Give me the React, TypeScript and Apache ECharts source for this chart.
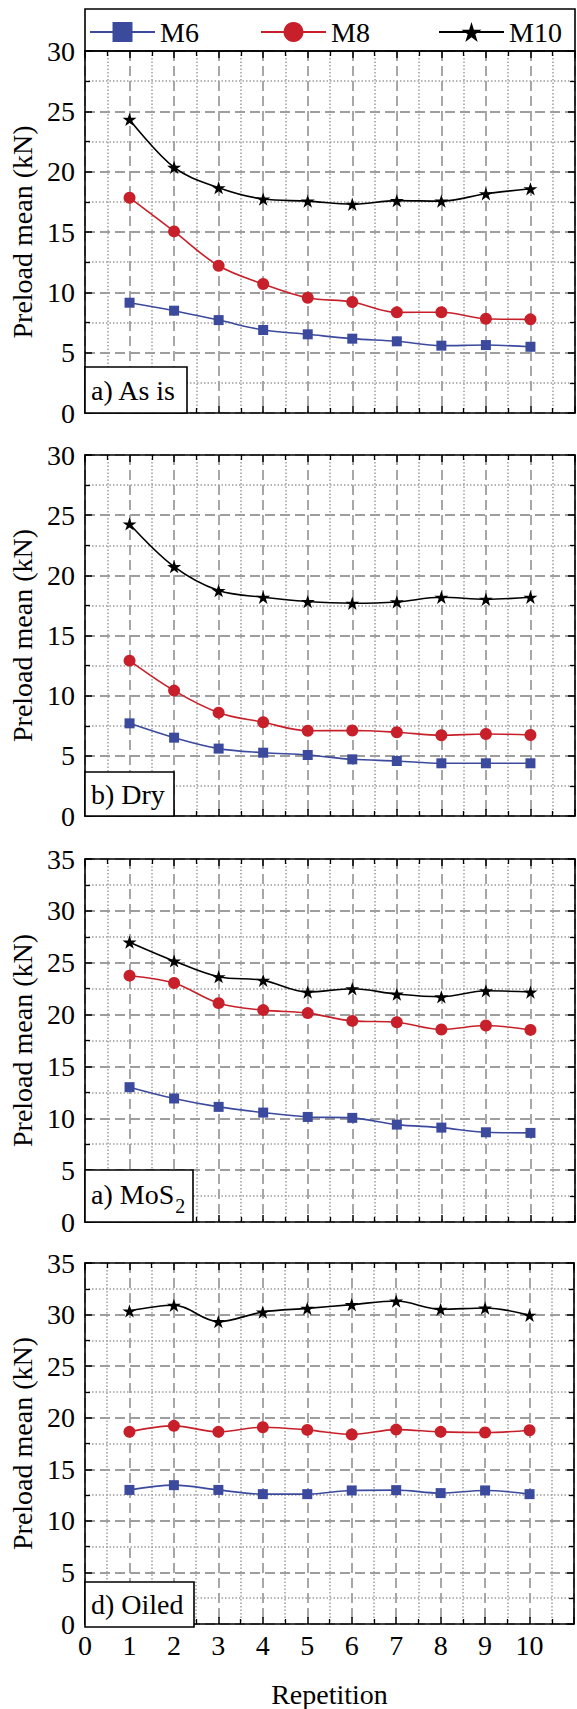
import React, { useEffect, useRef } from 'react';
import * as echarts from 'echarts';

// ---------- data ----------
const repetitions = [1, 2, 3, 4, 5, 6, 7, 8, 9, 10];
const seriesNames = ['M6', 'M8', 'M10'];
const panelLabels = ['a) As is', 'b) Dry', 'a) MoS', 'd) Oiled'];
const panelSubscripts = ['', '', '2', ''];
const yMaxes = [30, 30, 35, 35];
const xMax = 11;
const yAxisTitle = 'Preload mean (kN)';
const xAxisTitle = 'Repetition';

const asIsM6 = [9.14, 8.48, 7.7, 6.88, 6.52, 6.16, 5.94, 5.58, 5.63, 5.49];
const asIsM8 = [17.84, 15.05, 12.2, 10.69, 9.55, 9.2, 8.34, 8.35, 7.81, 7.76];
const asIsM10 = [24.33, 20.35, 18.67, 17.73, 17.56, 17.3, 17.6, 17.56, 18.17, 18.58];

const dryM6 = [7.7, 6.51, 5.6, 5.26, 5.07, 4.71, 4.57, 4.38, 4.38, 4.38];
const dryM8 = [12.91, 10.42, 8.59, 7.79, 7.09, 7.1, 6.96, 6.71, 6.82, 6.73];
const dryM10 = [24.27, 20.72, 18.73, 18.18, 17.82, 17.68, 17.79, 18.18, 18.01, 18.18];

const mos2M6 = [13.0, 11.91, 11.1, 10.55, 10.13, 10.04, 9.39, 9.1, 8.65, 8.59];
const mos2M8 = [23.75, 23.04, 21.1, 20.43, 20.14, 19.39, 19.26, 18.56, 18.94, 18.52];
const mos2M10 = [26.98, 25.17, 23.65, 23.3, 22.17, 22.49, 21.97, 21.71, 22.29, 22.17];

const oiledM6 = [13.0, 13.46, 13.0, 12.59, 12.59, 12.95, 12.98, 12.69, 12.95, 12.59];
const oiledM8 = [18.63, 19.21, 18.63, 19.08, 18.82, 18.37, 18.85, 18.63, 18.56, 18.79];
const oiledM10 = [30.35, 30.9, 29.32, 30.25, 30.6, 30.96, 31.31, 30.51, 30.64, 29.93];

const panelData = [
  [asIsM6, asIsM8, asIsM10],
  [dryM6, dryM8, dryM10],
  [mos2M6, mos2M8, mos2M10],
  [oiledM6, oiledM8, oiledM10],
];

// ---------- layout / style ----------
const FONT = 'Liberation Serif';
const GRID_LEFT = 85;
const GRID_WIDTH = 490;
const gridTops = [51, 455, 859, 1263];
const gridHeights = [362, 361, 363, 364];
const labelBoxes = [
  { x: 85, y: 367, w: 102, h: 46 },
  { x: 85, y: 772, w: 89, h: 44 },
  { x: 85, y: 1170, w: 108, h: 52 },
  { x: 85, y: 1582, w: 109, h: 45 },
];
const legendLefts = [89, 260, 438];
const seriesColors = ['#3c4a9e', '#c8202a', '#000000'];
const STAR =
  'path://M0,-10 L2.245,-3.09 L9.511,-3.09 L3.633,1.18 L5.878,8.09 L0,3.82 L-5.878,8.09 L-3.633,1.18 L-9.511,-3.09 L-2.245,-3.09 Z';
const seriesSymbols = ['rect', 'circle', STAR];
const seriesSymbolSizes = [10, 12, 14];

const GRID_GRAY = '#9e9e9e';

export default function App() {
  const ref = useRef<HTMLDivElement>(null);

  useEffect(() => {
    if (!ref.current) return;
    const chart = echarts.init(ref.current, undefined, { renderer: 'svg' });

    const grids = gridTops.map((t, i) => ({
      left: GRID_LEFT,
      width: GRID_WIDTH,
      top: t,
      height: gridHeights[i],
      containLabel: false,
    }));

    const axisLine = { show: true, onZero: false, lineStyle: { color: '#000', width: 1.6 } };
    const axisTick = { show: true, inside: true, length: 7, lineStyle: { color: '#000', width: 1.5 } };
    const minorTick = { show: true, splitNumber: 2, length: 5, lineStyle: { color: '#000', width: 1.3 } };
    const splitLine = { show: true, lineStyle: { color: GRID_GRAY, width: 1.8, type: [10, 5] } };
    const minorSplitLine = { show: true, lineStyle: { color: GRID_GRAY, width: 1.5, type: [1.5, 2] } };

    const xAxesBottom = gridTops.map((_, i) => ({
      type: 'value',
      gridIndex: i,
      position: 'bottom',
      min: 0,
      max: xMax,
      interval: 1,
      axisLine,
      axisTick,
      minorTick,
      splitLine,
      minorSplitLine,
      axisLabel: {
        show: i === 3,
        margin: 7,
        fontFamily: FONT,
        fontSize: 28,
        color: '#000',
        formatter: (v: number) => (v === xMax ? '' : String(v)),
      },
      name: i === 3 ? xAxisTitle : '',
      nameLocation: 'middle',
      nameGap: 56,
      nameTextStyle: { fontFamily: FONT, fontSize: 28, color: '#000' },
    }));
    const xAxesTop = gridTops.map((_, i) => ({
      type: 'value',
      gridIndex: i,
      position: 'top',
      min: 0,
      max: xMax,
      interval: 1,
      axisLine,
      axisTick,
      minorTick,
      splitLine: { show: false },
      axisLabel: { show: false },
    }));
    const yAxesLeft = gridTops.map((_, i) => ({
      type: 'value',
      gridIndex: i,
      position: 'left',
      min: 0,
      max: yMaxes[i],
      interval: 5,
      axisLine,
      axisTick,
      minorTick,
      splitLine,
      minorSplitLine,
      axisLabel: { margin: 10, fontFamily: FONT, fontSize: 28, color: '#000' },
      name: yAxisTitle,
      nameLocation: 'middle',
      nameGap: 46,
      nameTextStyle: { fontFamily: FONT, fontSize: 28, color: '#000' },
    }));
    const yAxesRight = gridTops.map((_, i) => ({
      type: 'value',
      gridIndex: i,
      position: 'right',
      min: 0,
      max: yMaxes[i],
      interval: 5,
      axisLine,
      axisTick,
      minorTick,
      splitLine: { show: false },
      axisLabel: { show: false },
    }));

    const series: any[] = [];
    panelData.forEach((group, p) => {
      group.forEach((vals, s) => {
        series.push({
          type: 'line',
          name: seriesNames[s],
          xAxisIndex: p,
          yAxisIndex: p,
          data: repetitions.map((r, k) => [r, vals[k]]),
          smooth: 0.35,
          symbol: seriesSymbols[s],
          symbolSize: seriesSymbolSizes[s],
          symbolKeepAspect: true,
          showAllSymbol: true,
          color: seriesColors[s],
          itemStyle: { color: seriesColors[s] },
          lineStyle: { color: seriesColors[s], width: 1.6 },
          z: 3 + s,
        });
      });
    });

    const legends = seriesNames.map((n, i) => ({
      data: [n],
      left: legendLefts[i],
      top: 18,
      padding: 0,
      itemWidth: 65,
      itemHeight: 25,
      itemGap: 0,
      selectedMode: false,
      textStyle: { fontFamily: FONT, fontSize: 28, color: '#000' },
    }));

    const graphics: any[] = [
      {
        type: 'rect',
        z: 100,
        shape: { x: GRID_LEFT, y: 9, width: GRID_WIDTH, height: gridTops[0] - 9 },
        style: { fill: 'none', stroke: '#000', lineWidth: 1.6 },
      },
    ];
    labelBoxes.forEach((b, i) => {
      graphics.push({
        type: 'rect',
        z: 100,
        shape: { x: b.x, y: b.y, width: b.w, height: b.h },
        style: { fill: '#fff', stroke: '#000', lineWidth: 1.6 },
      });
      const sub = panelSubscripts[i];
      graphics.push({
        type: 'text',
        z: 101,
        x: b.x + 6,
        y: b.y + (sub ? 24 : b.h / 2),
        style: {
          text: sub ? `{m|${panelLabels[i]}}{s|${sub}}` : panelLabels[i],
          fontFamily: FONT,
          fontSize: 28,
          fill: '#000',
          verticalAlign: 'middle',
          align: 'left',
          rich: sub
            ? {
                m: { fontFamily: FONT, fontSize: 28, fill: '#000', color: '#000' },
                s: { fontFamily: FONT, fontSize: 20, fill: '#000', color: '#000', padding: [24, 0, 0, 1] },
              }
            : undefined,
        },
      });
    });

    chart.setOption({
      animation: false,
      backgroundColor: '#fff',
      grid: grids,
      xAxis: [...xAxesBottom, ...xAxesTop],
      yAxis: [...yAxesLeft, ...yAxesRight],
      legend: legends,
      series,
      graphic: graphics,
    });

    return () => chart.dispose();
  }, []);

  return (
    <div
      ref={ref}
      style={{ position: 'absolute', left: 0, top: 0, width: 577, height: 1709 }}
    />
  );
}
